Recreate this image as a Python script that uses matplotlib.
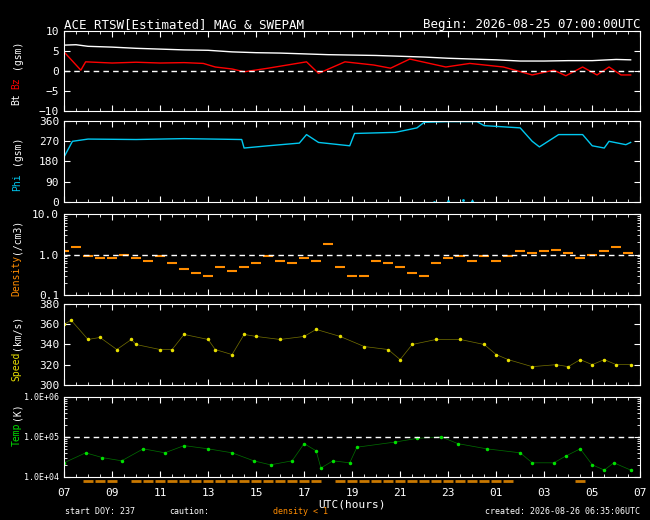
import numpy as np
import matplotlib.pyplot as plt
from matplotlib.ticker import MultipleLocator, LogLocator, NullFormatter

# hours after 2026-08-25 07:00 UTC
bt_t = [0, 0.5, 1, 2, 3, 4, 5, 6, 7, 8, 9, 10, 11, 12, 13, 14, 15, 16, 17, 18, 19, 20, 21, 22, 23, 23.6]
bt_v = [6.5, 6.6, 6.2, 6.0, 5.7, 5.5, 5.3, 5.2, 4.8, 4.6, 4.5, 4.3, 4.1, 4.0, 3.9, 3.7, 3.5, 3.2, 3.0, 2.8, 2.5, 2.5, 2.6, 2.6, 2.9, 2.8]

bz_t = [0, 0.7, 0.9, 2, 3, 4, 5, 5.8, 6.3, 7, 7.5, 8.5, 10.1, 10.6, 11.7, 12.9, 13.6, 14.4,
        15.9, 16.9, 18.3, 19.5, 20.4, 20.9, 21.6, 22.2, 22.7, 23.2, 23.6]
bz_v = [4.8, 0.2, 2.3, 2.0, 2.2, 2.0, 2.1, 1.9, 1.0, 0.5, -0.2, 0.7, 2.3, -0.6, 2.3, 1.5, 0.7, 3.0,
        1.0, 1.9, 1.0, -1.0, 0.2, -1.2, 1.0, -1.0, 1.0, -1.0, -1.0]

phi_t = [0, 0.35, 1, 3, 5, 7.4, 7.5, 8.5, 9.8, 10.1, 10.6, 11.9, 12.1, 13.8, 14.7, 15.0,
         16.0, 17.2, 17.5, 19.0, 19.5, 19.8, 20.6, 21.6, 22.0, 22.5, 22.7, 23.4, 23.6]
phi_v = [200, 270, 280, 278, 282, 278, 240, 250, 262, 300, 265, 250, 305, 310, 330, 355,
         358, 358, 340, 330, 270, 245, 300, 300, 250, 240, 270, 255, 265]
phi_wrap_t = [15.4, 16.0, 16.6, 17.0]
phi_wrap_v = [0, 2, 6, 3]

den_t = np.arange(0, 24, 0.5)
den_v = [1.2, 1.5, 0.9, 0.8, 0.8, 1.0, 0.8, 0.7, 0.9, 0.6, 0.45, 0.35, 0.3, 0.5, 0.4, 0.5,
         0.6, 0.9, 0.7, 0.6, 0.8, 0.7, 1.8, 0.5, 0.3, 0.3, 0.7, 0.6, 0.5, 0.35, 0.3, 0.6,
         0.8, 0.9, 0.7, 0.9, 0.7, 0.9, 1.2, 1.1, 1.2, 1.3, 1.1, 0.8, 1.0, 1.2, 1.5, 1.1]

spd_t = [0, 0.3, 1, 1.5, 2.2, 2.8, 3, 4, 4.5, 5, 6, 6.3, 7, 7.5, 8, 9, 10, 10.5, 11.5, 12.5,
         13.5, 14, 14.5, 15.5, 16.5, 17.5, 18, 18.5, 19.5, 20.5, 21, 21.5, 22, 22.5, 23, 23.6]
spd_v = [360, 364, 345, 347, 335, 345, 340, 335, 335, 350, 345, 335, 330, 350, 348, 345, 348,
         355, 348, 338, 335, 325, 340, 345, 345, 340, 330, 325, 318, 320, 318, 325, 320, 325,
         320, 320]

tmp_t = [0, 0.9, 1.6, 2.4, 3.3, 4.2, 5.0, 6.0, 7.0, 7.9, 8.6, 9.5, 10.0, 10.5, 10.7, 11.2,
         11.9, 12.2, 13.8, 14.7, 15.7, 16.4, 17.6, 19.0, 19.5, 20.4, 20.9, 21.5, 22.0, 22.5,
         22.9, 23.6]
tmp_lg = [4.35, 4.6, 4.48, 4.4, 4.7, 4.6, 4.78, 4.7, 4.6, 4.4, 4.3, 4.4, 4.83, 4.65, 4.22,
          4.4, 4.35, 4.74, 4.87, 4.96, 5.0, 4.83, 4.7, 4.6, 4.35, 4.35, 4.52, 4.7, 4.3, 4.17,
          4.35, 4.17]

hour_labels = ['07', '09', '11', '13', '15', '17', '19', '21', '23', '01', '03', '05', '07']

plt.rcParams['font.family'] = 'DejaVu Sans Mono'
fig = plt.figure(figsize=(6.5, 5.2), dpi=100, facecolor='black')

boxes = [(0.787, 0.940), (0.612, 0.767), (0.433, 0.588), (0.260, 0.415), (0.083, 0.237)]
axes = []
for lo, hi in boxes:
    ax = fig.add_axes([0.0985, lo, 0.8865, hi - lo], facecolor='black')
    ax.set_xlim(0, 24)
    for s in ax.spines.values():
        s.set_color('white')
    ax.tick_params(colors='white', labelsize=8, which='both', direction='in',
                   top=True, right=True, length=4)
    ax.tick_params(which='minor', length=2)
    ax.xaxis.set_major_locator(MultipleLocator(2))
    ax.xaxis.set_minor_locator(MultipleLocator(0.5))
    ax.set_xticklabels([])
    axes.append(ax)

LX = 0.018

# Bt / Bz
ax = axes[0]
ax.plot(bt_t, bt_v, color='white', lw=1)
ax.plot(bz_t, bz_v, color='red', lw=1)
ax.axhline(0, color='white', ls=(0, (4, 3)), lw=1)
ax.set_ylim(-10, 10)
ax.yaxis.set_major_locator(MultipleLocator(5))
ax.text(0, 1.04, 'ACE RTSW[Estimated] MAG & SWEPAM', transform=ax.transAxes,
        color='white', fontsize=9)
ax.text(1, 1.04, 'Begin: 2026-08-25 07:00:00UTC', transform=ax.transAxes,
        color='white', fontsize=9, ha='right')
fig.text(LX, 0.81, 'Bt', color='white', rotation=90, fontsize=7, va='center')
fig.text(LX, 0.84, 'Bz', color='red', rotation=90, fontsize=7, va='center')
fig.text(LX, 0.895, '(gsm)', color='white', rotation=90, fontsize=7, va='center')

# Phi
ax = axes[1]
ax.plot(phi_t, phi_v, color='#00c8f0', lw=1)
ax.plot(phi_wrap_t, phi_wrap_v, '.', color='#00c8f0', ms=2)
ax.set_ylim(0, 360)
ax.yaxis.set_major_locator(MultipleLocator(90))
fig.text(LX, 0.65, 'Phi', color='#00c8f0', rotation=90, fontsize=7, va='center')
fig.text(LX, 0.71, '(gsm)', color='white', rotation=90, fontsize=7, va='center')

# Density
ax = axes[2]
ax.plot(den_t, den_v, '_', color='#ff8c00', ms=7, mew=1.5)
ax.axhline(1, color='white', ls=(0, (4, 3)), lw=1)
ax.set_yscale('log')
ax.set_ylim(0.1, 10)
ax.yaxis.set_minor_locator(LogLocator(base=10, subs=np.arange(2, 10)))
ax.yaxis.set_minor_formatter(NullFormatter())
ax.set_yticks([0.1, 1, 10])
ax.set_yticklabels(['0.1', '1.0', '10.0'])
fig.text(LX, 0.47, 'Density', color='#ff8c00', rotation=90, fontsize=7, va='center')
fig.text(LX, 0.545, '(/cm3)', color='white', rotation=90, fontsize=7, va='center')

# Speed
ax = axes[3]
ax.plot(spd_t, spd_v, '.', color='#e8e000', ms=3)
ax.plot(spd_t, spd_v, color='#e8e000', lw=0.5, alpha=0.5)
ax.set_ylim(300, 380)
ax.yaxis.set_major_locator(MultipleLocator(20))
fig.text(LX, 0.295, 'Speed', color='#e8e000', rotation=90, fontsize=7, va='center')
fig.text(LX, 0.36, '(km/s)', color='white', rotation=90, fontsize=7, va='center')

# Temp
ax = axes[4]
tmp_v = [10 ** v for v in tmp_lg]
ax.plot(tmp_t, tmp_v, '.', color='#00e000', ms=3)
ax.plot(tmp_t, tmp_v, color='#00e000', lw=0.5, alpha=0.5)
ax.axhline(1e5, color='white', ls=(0, (4, 3)), lw=1)
ax.set_yscale('log')
ax.set_ylim(1e4, 1e6)
ax.yaxis.set_minor_locator(LogLocator(base=10, subs=np.arange(2, 10)))
ax.yaxis.set_minor_formatter(NullFormatter())
ax.set_yticks([1e4, 1e5, 1e6])
ax.set_yticklabels(['1.0E+04', '1.0E+05', '1.0E+06'], fontsize=6)
fig.text(LX, 0.165, 'Temp', color='#00e000', rotation=90, fontsize=7, va='center')
fig.text(LX, 0.21, '(K)', color='white', rotation=90, fontsize=7, va='center')

# density < 1 caution bar
low = [t for t, d in zip(den_t, den_v) if d < 1]
ax.plot(low, [0.8e4] * len(low), marker='_', ms=7, mew=2, ls='none', color='#c87800',
        clip_on=False)

ax.set_xticks(np.arange(0, 25, 2))
ax.set_xticklabels(hour_labels, color='white', fontsize=8)
ax.tick_params(axis='x', pad=8)
ax.set_xlabel('UTC(hours)', color='white', fontsize=8, labelpad=1)

fig.text(0.10, 0.012, 'start DOY: 237', color='white', fontsize=6)
fig.text(0.26, 0.012, 'caution:', color='white', fontsize=6)
fig.text(0.42, 0.012, 'density < 1', color='#ff8c00', fontsize=6)
fig.text(0.985, 0.012, 'created: 2026-08-26 06:35:06UTC', color='white', fontsize=6,
         ha='right')

fig.savefig('out.png', facecolor='black')
